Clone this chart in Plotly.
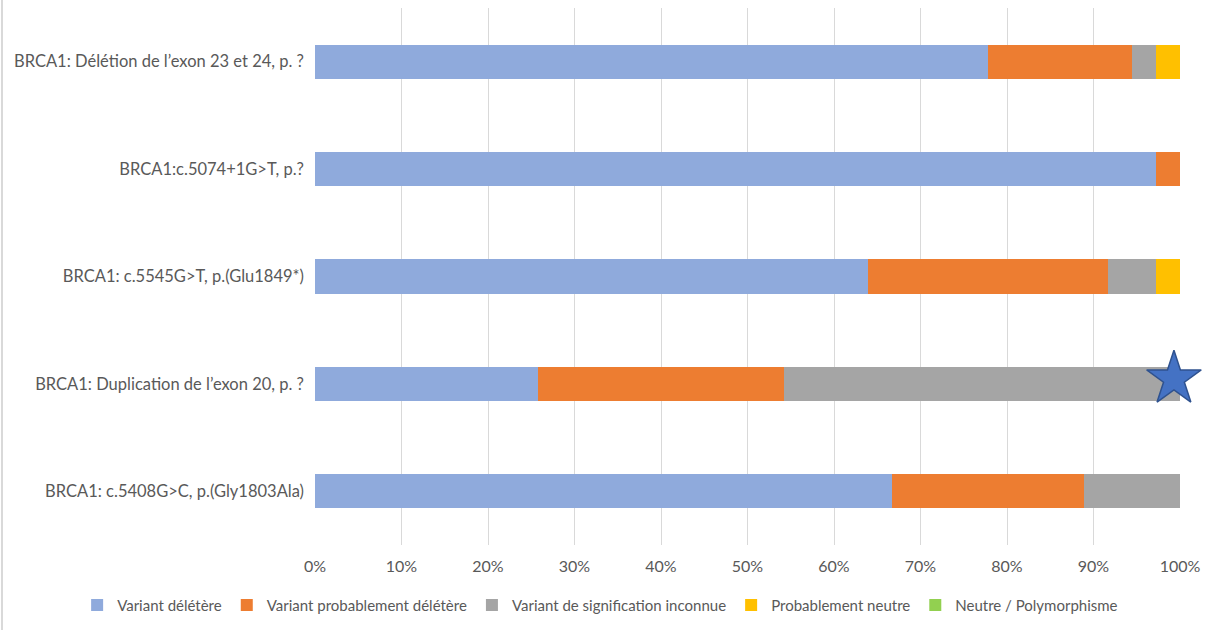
import plotly.graph_objects as go

# Variant categories (top to bottom)
variants = [
    "BRCA1: Délétion de l’exon 23 et 24, p. ?",
    "BRCA1:c.5074+1G>T, p.?",
    "BRCA1: c.5545G>T, p.(Glu1849*)",
    "BRCA1: Duplication de l’exon 20, p. ?",
    "BRCA1: c.5408G>C, p.(Gly1803Ala)",
]

# Share of classifications per variant (%)
deletere = [77.8, 97.2, 63.9, 25.8, 66.7]
prob_deletere = [16.7, 2.8, 27.8, 28.4, 22.2]
signif_inconnue = [2.7, 0.0, 5.5, 45.8, 11.1]
prob_neutre = [2.8, 0.0, 2.8, 0.0, 0.0]
neutre_poly = [0.0, 0.0, 0.0, 0.0, 0.0]

series_names = [
    "Variant délétère",
    "Variant probablement délétère",
    "Variant de signification inconnue",
    "Probablement neutre",
    "Neutre / Polymorphisme",
]
series_values = [deletere, prob_deletere, signif_inconnue, prob_neutre, neutre_poly]
colors = ["#8FAADC", "#ED7D31", "#A5A5A5", "#FFC000", "#92D050"]

# Highlighted variant marked with a star at the end of its bar
starred_variant = "BRCA1: Duplication de l’exon 20, p. ?"
star_x = [99.3]

fig = go.Figure()
for name, vals, col in zip(series_names, series_values, colors):
    fig.add_trace(go.Bar(
        y=variants, x=vals, name=name, orientation="h",
        marker=dict(color=col, line=dict(width=0)),
    ))

# Star drawn on an overlaid category axis, nudged slightly upward
fig.add_trace(go.Scatter(
    x=star_x, y=[starred_variant], mode="markers", showlegend=False,
    yaxis="y2",
    marker=dict(symbol="star", size=41, color="#4472C4",
                line=dict(color="#2F528F", width=1.5)),
    cliponaxis=False, hoverinfo="skip",
))

font_family = "Lato, 'Open Sans', sans-serif"
n_cat = len(variants)
nudge = 0.047

fig.update_layout(
    width=1219, height=630,
    barmode="stack", bargap=0.68,
    paper_bgcolor="white", plot_bgcolor="white",
    margin=dict(l=315, r=39, t=8, b=85),
    font=dict(family=font_family, size=16, color="#595959"),
    xaxis=dict(
        range=[0, 100], tickvals=list(range(0, 101, 10)),
        ticktext=[f"{v}%" for v in range(0, 101, 10)],
        showgrid=True, gridcolor="#D9D9D9", gridwidth=1,
        zeroline=False, showline=False, ticks="", ticklabelstandoff=10,
        tickfont=dict(size=16, color="#595959"),
    ),
    yaxis=dict(
        categoryorder="array", categoryarray=variants,
        range=[n_cat - 0.5, -0.5],
        showgrid=False, showline=False, ticks="", ticklabelstandoff=10,
        tickfont=dict(size=16.5, color="#595959"),
    ),
    yaxis2=dict(
        overlaying="y", categoryorder="array", categoryarray=variants,
        range=[n_cat - 0.5 + nudge, -0.5 + nudge],
        showgrid=False, showline=False, showticklabels=False, ticks="",
        zeroline=False,
    ),
    legend=dict(
        orientation="h", x=-0.275, xanchor="left", y=-0.112, yanchor="middle",
        font=dict(size=15, color="#595959"), traceorder="normal",
        itemwidth=30,
    ),
    shapes=[dict(type="line", xref="paper", yref="paper",
                 x0=-313/865, x1=-313/865, y0=-85/537, y1=1 + 8/537,
                 line=dict(color="#D9D9D9", width=2))],
)

fig.write_html("out.html")
